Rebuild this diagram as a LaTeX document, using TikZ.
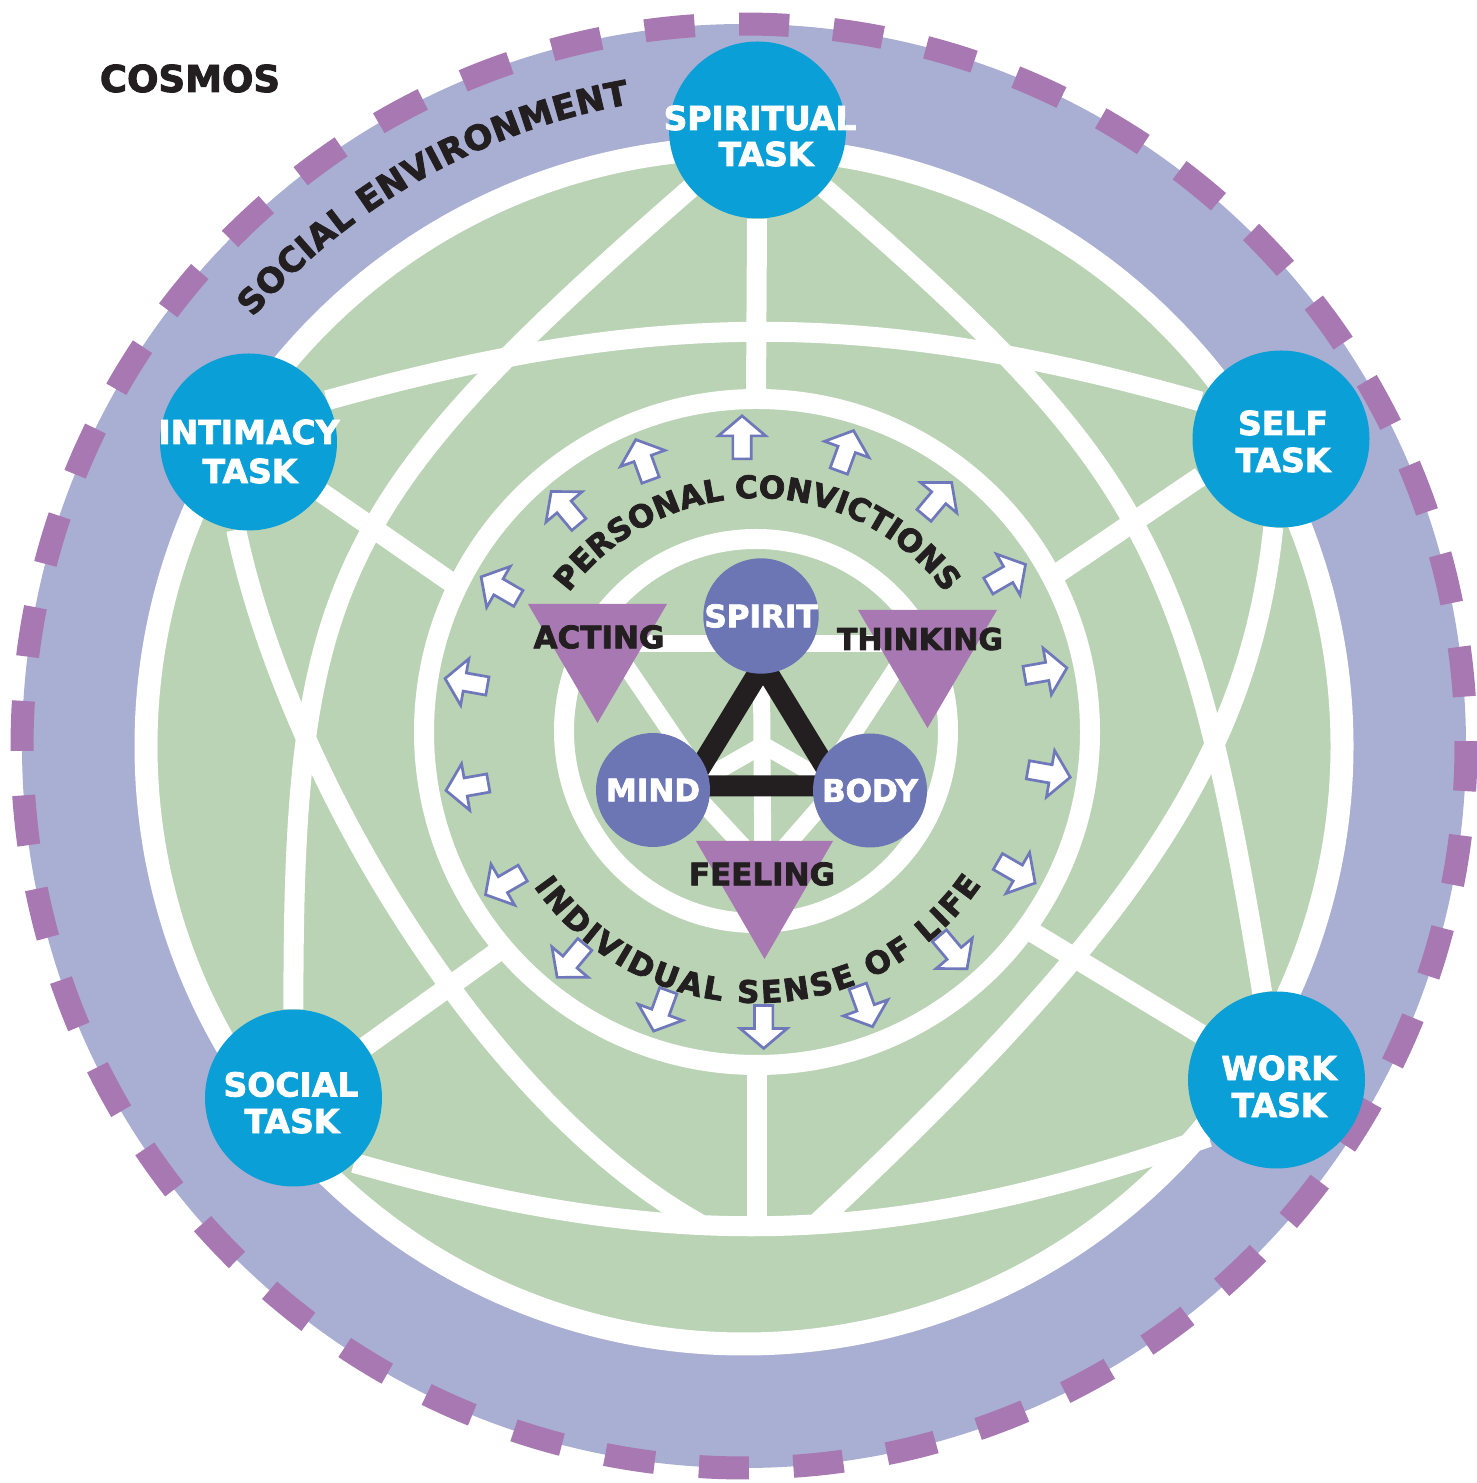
\documentclass[tikz,border=0pt]{standalone}
\usepackage{fontspec}
\setmainfont{DejaVu Sans}[BoldFeatures={FakeBold=2.5}]
\usetikzlibrary{decorations.text}
\definecolor{lav}{HTML}{A9AED3}
\definecolor{dashp}{HTML}{A878B2}
\definecolor{grn}{HTML}{BAD3B4}
\definecolor{taskb}{HTML}{0AA0D7}
\definecolor{innerb}{HTML}{6C76B4}
\definecolor{triP}{HTML}{A878B2}
\definecolor{blk}{HTML}{231F20}
\definecolor{arrc}{HTML}{6E78BA}
\newcommand{\fsz}[1]{\fontsize{#1}{#1}\selectfont\bfseries}
\pgfdeclarelayer{back}
\pgfdeclarelayer{lines}
\pgfsetlayers{back,lines,main}
\begin{document}
\begin{tikzpicture}[x=1pt,y=1pt,
  wl/.style={draw=white,line width=20pt},
  wlin/.style={draw=white,line width=17pt},
  task/.style={circle,fill=taskb,minimum size=177pt,inner sep=0pt},
  core/.style={circle,fill=innerb,minimum size=114pt,inner sep=0pt,text=white,font=\fsz{31}},
  tlabel/.style={text=white,font=\fsz{33},inner sep=0pt},
  dlabel/.style={text=blk,font=\fsz{31},inner sep=0pt},
  tri/.style={fill=triP},
  dashseg/.style={draw=dashp,line width=23pt},
  arrowbox/.style={fill=white,draw=arrc,line width=2.7pt,line join=miter},
  blacktri/.style={draw=blk,line width=21pt,line join=miter}]
\useasboundingbox (0,0) rectangle (1476,1483);
\coordinate (cOut) at (744,737);
\coordinate (cMid) at (757,751);
\coordinate (cIn) at (756,752);

% task circles
\node[task] (spiritual) at (757.5,1353) {};
\node[task] (intimacy) at (248.5,1041) {};
\node[task] (self) at (1281,1044) {};
\node[task] (social) at (293.5,385) {};
\node[task] (work) at (1276.5,403) {};
\node[tlabel] (spiritualA) at (760,1365) {SPIRITUAL};
\node[tlabel] (spiritualB) at (766,1329) {TASK};
\node[tlabel] (intimacyA) at (249,1051) {INTIMACY};
\node[tlabel] (intimacyB) at (250,1012) {TASK};
\node[tlabel] (selfA) at (1283,1060) {SELF};
\node[tlabel] (selfB) at (1283,1023) {TASK};
\node[tlabel] (socialA) at (291,398.5) {SOCIAL};
\node[tlabel] (socialB) at (292,362) {TASK};
\node[tlabel] (workA) at (1279,415) {WORK};
\node[tlabel] (workB) at (1279,378) {TASK};

% core
\node[core] (spirit) at (761,867) {SPIRIT};
\node[core] (mind) at (653,693) {MIND};
\node[core] (body) at (870,692.5) {BODY};
\node[dlabel] (acting) at (599,846) {ACTING};
\node[dlabel,font=\fsz{30}] (thinking) at (920,844) {THINKING};
\node[dlabel] (feeling) at (762,609) {FEELING};
\node[dlabel,font=\fsz{37}] (cosmos) at (190,1404.5) {COSMOS};

\begin{pgfonlayer}{back}
\fill[white] (0,0) rectangle (1476,1483);
\fill[lav] (cOut) circle[radius=722];
\foreach \k in {0,...,47}{
  \pgfmathsetmacro\a{-3.58+7.5*\k}
  \draw[dashseg] ({744+722*cos(\a)},{737+722*sin(\a)}) arc[start angle=\a,delta angle=3.97,radius=722];
}
\fill[grn] (cOut) circle[radius=598];
\draw[white,line width=23pt] (cOut) circle[radius=598];
\draw[wl] (cMid) circle[radius=333];
\draw[wl] (cIn) circle[radius=192];
\end{pgfonlayer}

\begin{pgfonlayer}{lines}
\coordinate (spT) at (756,1083);
\coordinate (spBa) at (757,419);
\coordinate (spBb) at (757,257);
\coordinate (spI) at (455,898);
\coordinate (spS) at (1058,910);
\coordinate (spSo) at (500,533);
\coordinate (spW) at (1027,554);
\coordinate (j1) at (700,259);
\coordinate (j2) at (815,258);
\draw[wl] (spiritual) -- (spT);
\draw[wl] (spBa) -- (spBb);
\draw[wl] (intimacy) -- (spI);
\draw[wl] (self.205) -- (spS);
\draw[wl] (social) -- (spSo);
\draw[wl] (work) -- (spW);
\draw[wl] (intimacy.28) to[bend left=15.7] (self.155);
\draw[wl] (social.-47) to[bend right=17.6] (work.-140);
\draw[wl] (spiritual) .. controls (333,983) and (293,899) .. (social);
\draw[wl] (spiritual) .. controls (1143,1019) and (1189,938) .. (work);
\draw[wl] (intimacy.-98) .. controls (288,707) and (485,379) .. (j1);
\draw[wl] (self.-95) .. controls (1250,730) and (1137,558) .. (j2);

% inner white pattern
\coordinate (hL) at (611,839);
\coordinate (hR) at (912,839);
\coordinate (lA) at (700,708);
\coordinate (lB) at (700,683);
\coordinate (rA) at (826,708);
\coordinate (rB) at (826,683);
\coordinate (fC) at (765,613);
\coordinate (vB) at (763,605);
\coordinate (yC) at (763,738);
\coordinate (yL) at (700,702);
\coordinate (yR) at (826,702);
\draw[wlin] (hL) -- (hR);
\draw[wlin] (hL) -- (lA);
\draw[wlin] (hR) -- (rA);
\draw[wlin] (lB) -- (fC);
\draw[wlin] (rB) -- (fC);
\draw[wlin] (spirit) -- (vB);
\draw[wlin] (yC) -- (yL);
\draw[wlin] (yC) -- (yR);

% black triangle
\coordinate (tA) at (763,818);
\coordinate (tB) at (689,697);
\coordinate (tC) at (837,697);
\draw[blacktri] (tA) -- (tB) -- (tC) -- cycle;

% purple triangles
\fill[tri] (528,879) -- (667,879) -- (597.5,760) -- cycle;
\fill[tri] (858,873) -- (997,873) -- (927.5,755) -- cycle;
\fill[tri] (696,642) -- (833,642) -- (764.5,524) -- cycle;

% arrows
\foreach \p/\d in {11.8/10,32.1/30,52.2/50,72.4/70,92.9/90,112.7/110,130.6/130,150.7/150,170.3/170,190.7/190,211/210,230.9/230,251/250,271.3/270,291.5/290,311.7/310,331.6/330,351.9/350}{
  \draw[arrowbox,shift={(757,751)},shift={(\p:295)},rotate=\d]
    (-21.5,-9.2) -- (1.5,-9.2) -- (1.5,-23.6) -- (21.5,0) -- (1.5,23.6) -- (1.5,9.2) -- (-21.5,9.2) -- cycle;
}
\end{pgfonlayer}

% arc texts
\path[decorate,decoration={text along path,text align={fit to path},
  text={|\fsz{31}\color{blk}|PERSONAL CONVICTIONS}}]
  ({757+234*cos(143.5)},{751+234*sin(143.5)}) arc[start angle=143.5,end angle=36.4,radius=234];
\path[decorate,decoration={text along path,text align={fit to path},
  text={|\fsz{31}\color{blk}|INDIVIDUAL SENSE OF LIFE}}]
  ({757+272*cos(214.8)},{752+272*sin(214.8)}) arc[start angle=214.8,end angle=325.6,radius=272];
\path[decorate,decoration={text along path,text align={fit to path},
  text={|\fsz{34}\color{blk}|SOCIAL ENVIRONMENT}}]
  ({744+652*cos(138.9)},{737+652*sin(138.9)}) arc[start angle=138.9,end angle=100.1,radius=652];
\end{tikzpicture}
\end{document}
